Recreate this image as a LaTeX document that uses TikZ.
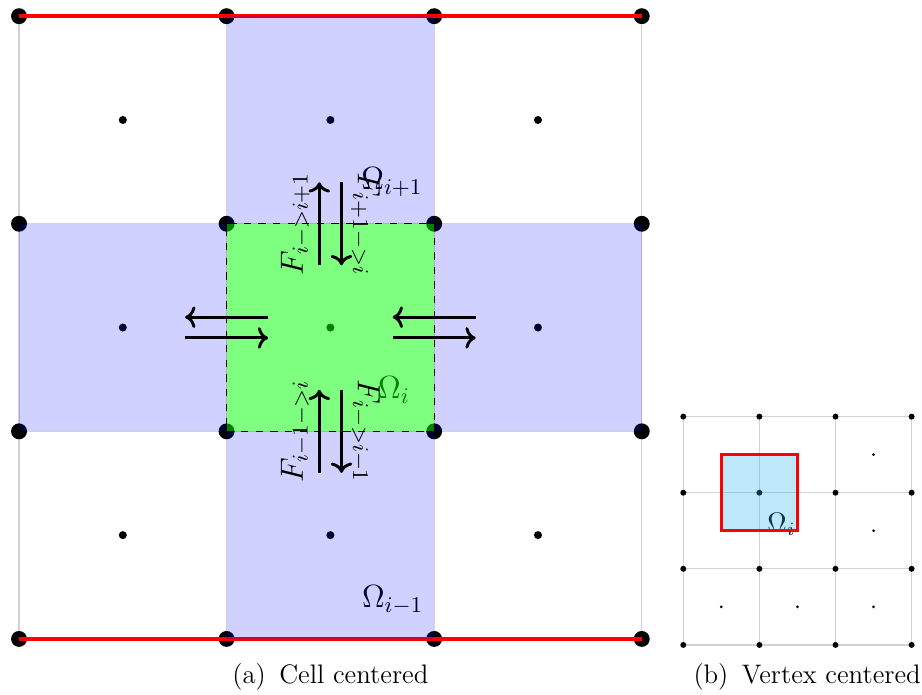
\RequirePackage{fix-cm}
\documentclass[tikz,border=0pt]{standalone}
\usepackage{amsmath,amsfonts,amssymb}
\usetikzlibrary{arrows.meta,positioning}

\definecolor{dualcyan}{RGB}{38,178,238}

\begin{document}
\begin{tikzpicture}[
  gridline/.style={gray!35, line width=0.5pt},
  wall/.style={red, line width=1.4pt},
  arm/.style={fill=blue, fill opacity=0.18},
  ctrlcell/.style={
    draw,
    dashed,
    fill=green,
    fill opacity=0.5,
    minimum size=3cm,
    inner sep=0pt,
    outer sep=0pt
  },
  dualcell/.style={fill=dualcyan, fill opacity=0.3},
  flux/.style={->, very thick},
  flabel/.style={font=\fontsize{13.2}{16}\selectfont, sloped, above},
  omlabel/.style={font=\fontsize{13.2}{16}\selectfont},
  caption/.style={font=\fontsize{11}{13.6}\selectfont}
]
\useasboundingbox (-0.275,-0.81) rectangle (13.05,9.234);

% (a) cell centered: grid and points
\draw[gridline] (0,0) grid[step=3] (9,9);
\foreach \x in {0,3,6,9}
  \foreach \y in {0,3,6,9}
    \fill (\x,\y) circle (0.115);
\foreach \x in {1.5,4.5,7.5}
  \foreach \y in {1.5,4.5,7.5}
    \fill (\x,\y) circle (0.058);

% boundaries
\draw[wall] (0,9) -- (9,9);
\draw[wall] (0,0) -- (9,0);

% cell names
\node[omlabel] (om-up) at (5.39,6.60) {$\Omega_{i+1}$};
\node[omlabel] (om-mid) at (5.42,3.60) {$\Omega_i$};
\node[omlabel] (om-dn) at (5.40,0.56) {$\Omega_{i-1}$};

% neighbours and control cell
\fill[arm] (3,6) rectangle (6,9);
\fill[arm] (3,0) rectangle (6,3);
\fill[arm] (0,3) rectangle (3,6);
\fill[arm] (6,3) rectangle (9,6);
\node[ctrlcell] (cell) at (4.5,4.5) {};

% fluxes
\draw[flux] ([xshift=-1.6mm,yshift=-6mm]cell.north) -- node[flabel] (f-up-out) {$F_{i->i+1}$} ([xshift=-1.6mm,yshift=6mm]cell.north);
\draw[flux] ([xshift=1.6mm,yshift=6mm]cell.north) -- node[flabel] (f-up-in) {$F_{i+1->i}$} ([xshift=1.6mm,yshift=-6mm]cell.north);
\draw[flux] ([xshift=-1.6mm,yshift=-6mm]cell.south) -- node[flabel] (f-dn-in) {$F_{i-1->i}$} ([xshift=-1.6mm,yshift=6mm]cell.south);
\draw[flux] ([xshift=1.6mm,yshift=6mm]cell.south) -- node[flabel] (f-dn-out) {$F_{i->i-1}$} ([xshift=1.6mm,yshift=-6mm]cell.south);
\draw[flux] ([xshift=6mm,yshift=1.5mm]cell.west) -- ([xshift=-6mm,yshift=1.5mm]cell.west);
\draw[flux] ([xshift=-6mm,yshift=-1.5mm]cell.west) -- ([xshift=6mm,yshift=-1.5mm]cell.west);
\draw[flux] ([xshift=6mm,yshift=1.5mm]cell.east) -- ([xshift=-6mm,yshift=1.5mm]cell.east);
\draw[flux] ([xshift=-6mm,yshift=-1.5mm]cell.east) -- ([xshift=6mm,yshift=-1.5mm]cell.east);

% (b) vertex centered
\begin{scope}[shift={(9.6,-0.087)}]
  \draw[gridline] (0,0) grid[step=1.1] (3.3,3.3);
  \foreach \x in {0,1.1,2.2,3.3}
    \foreach \y in {0,1.1,2.2,3.3}
      \fill (\x,\y) circle (0.043);
  \foreach \p in {(2.75,2.75),(2.75,1.65),(0.55,0.55),(1.65,0.55),(2.75,0.55)}
    \fill \p circle (0.022);
  \node[caption] (om-v) at (1.42,1.74) {$\Omega_i$};
  \fill[dualcell] (0.55,1.65) rectangle (1.65,2.75);
  \draw[red, line width=1.2pt] (0.55,1.65) rectangle (1.65,2.75);
\end{scope}

% captions
\node[caption] (cap-a) at (4.5,-0.55) {(a)\enspace Cell centered};
\node[caption] (cap-b) at (11.39,-0.55) {(b)\enspace Vertex centered};

\end{tikzpicture}
\end{document}
